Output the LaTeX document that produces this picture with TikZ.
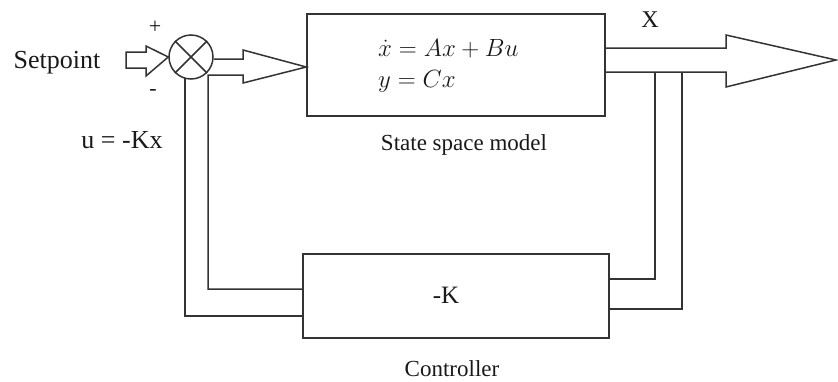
\documentclass[tikz,border=0pt]{standalone}
\usepackage{fontspec}
\setmainfont{Liberation Serif}
\usetikzlibrary{calc}
\tikzset{
  ln/.style={draw=black!80, line width=1.5pt},
  blockbox/.style={ln, rectangle, inner sep=0pt},
  lbl/.style={text=black!90, inner sep=0pt},
}
\begin{document}
\begin{tikzpicture}[x=1pt,y=-1pt]
\useasboundingbox (0,0) rectangle (838,381);
% blocks
\node[blockbox, minimum width=298pt, minimum height=102pt] (plant) at (456,65) {};
\node[blockbox, minimum width=306pt, minimum height=84pt] (ctrl) at (456,296) {};
\node[ln, circle, minimum size=44pt, inner sep=0pt] (sum) at (191,57) {};
\draw[ln] (sum.45) -- (sum.225) (sum.135) -- (sum.315);
% texts
\node[lbl, font=\fontsize{26}{28}\selectfont] (sp) at (57,63) {Setpoint};
\node[lbl, font=\fontsize{22}{24}\selectfont] (plus) at (155,27) {+};
\node[lbl, font=\fontsize{22}{24}\selectfont] (minus) at (153,92) {-};
\node[lbl, font=\fontsize{26}{28}\selectfont] (ulaw) at (122,140) {u = -Kx};
\node[lbl, font=\fontsize{24}{26}\selectfont] (xlab) at (650,20) {X};
\node[lbl, font=\fontsize{23}{25}\selectfont] (plantlbl) at (464,145) {State space model};
\node[lbl, font=\fontsize{25}{27}\selectfont] (klbl) at (446,295) {-K};
\node[lbl, font=\fontsize{23}{25}\selectfont] (ctrllbl) at (452,369) {Controller};
\node[lbl, anchor=base west, font=\fontsize{27}{29}\selectfont] (eq1) at (378,56) {$\dot{x} = Ax + Bu$};
\node[lbl, anchor=base west, font=\fontsize{27}{29}\selectfont] (eq2) at (378,87) {$y = Cx$};
% setpoint block arrow
\coordinate (spt) at (sum.west);
\draw[ln, line join=miter] (126,52) -- (146,52) -- (146,46) -- (spt) -- (146,76) -- (146,68) -- (126,68) -- cycle;
% sum -> plant block arrow, with inner feedback line
\coordinate (ptip) at (plant.west |- 0,67);
\draw[ln, line join=miter] (sum.east |- 0,59) -- (243,59) -- (243,50) -- (ptip) -- (243,83) -- (243,75) -- (208,75)
  -- (208,289) -- (ctrl.west |- 0,289);
% outer feedback line
\draw[ln] (185,78) -- (185,316) -- (ctrl.west |- 0,316);
% output block arrow
\coordinate (otip) at (836,60);
\draw[ln, line join=miter] (plant.east |- 0,48) -- (726,48) -- (726,35) -- (otip) -- (726,87) -- (726,72) -- (plant.east |- 0,72);
% state feedback lines
\draw[ln] (655,72) -- (655,279) -- (ctrl.east |- 0,279);
\draw[ln] (682,72) -- (682,309) -- (ctrl.east |- 0,309);
\end{tikzpicture}
\end{document}
